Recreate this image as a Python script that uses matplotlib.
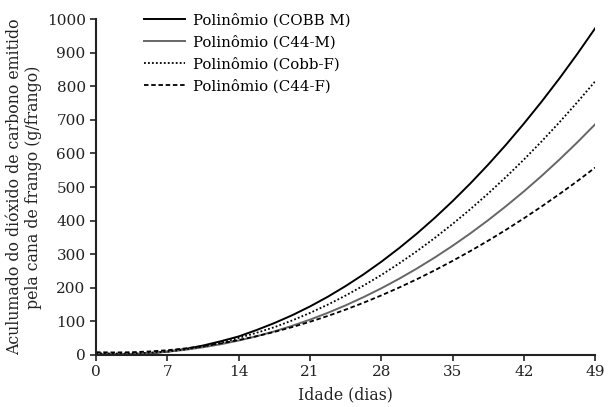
import numpy as np
import matplotlib.pyplot as plt

# Valores (curvas de tendência polinomial), a cada 1,75 dia
dias = [0, 1.75, 3.5, 5.25, 7, 8.75, 10.5, 12.25, 14, 15.75, 17.5, 19.25, 21, 22.75, 24.5,
        26.25, 28, 29.75, 31.5, 33.25, 35, 36.75, 38.5, 40.25, 42, 43.75, 45.5, 47.25, 49]
cobb_m = [3, 1.2, 1.7, 4.6, 9.9, 17.6, 27.9, 40.7, 55, 74.0, 94.8, 118.1, 144.3, 173.2, 205.1,
          239.7, 277.4, 318.0, 361.5, 408.2, 458, 510.9, 567, 626.3, 689, 754.8, 824, 896.8, 973]
c44_m = [3, 2.2, 3.0, 5.5, 9.5, 15.2, 22.7, 31.8, 42.8, 55.5, 70.1, 86.6, 105, 125.3, 147.6,
         172.0, 198.3, 226.8, 257.4, 290.1, 325, 362.1, 401.5, 443.2, 487.1, 533.4, 582.2, 633.3, 687]
cobb_f = [5, 4.0, 4.5, 6.5, 9.7, 16.3, 25.0, 36.0, 50.5, 65.8, 82.5, 102.6, 125, 149.7, 176.8,
          206.3, 238, 272.4, 309.1, 348.4, 390, 434.2, 480.9, 530.1, 581.8, 636.3, 693.3, 752.8, 815]
c44_f = [8, 7.3, 8.0, 10.3, 14.0, 19.3, 26.1, 34.4, 44.3, 55.6, 68.4, 82.8, 98.7, 116.0, 134.9,
         155.3, 177.2, 200.6, 225.5, 252.0, 280, 309.4, 340.3, 372.8, 406.8, 442.3, 479.3, 517.8, 558]

plt.rcParams['font.family'] = 'DejaVu Serif'

fig = plt.figure(figsize=(6.08, 4.07), dpi=100)
ax = fig.add_axes([0.158, 0.128, 0.821, 0.825])

ax.plot(dias, cobb_m, color='black', lw=1.4, label='Polinômio (COBB M)')
ax.plot(dias, c44_m, color='#666666', lw=1.4, label='Polinômio (C44-M)')
ax.plot(dias, cobb_f, color='black', lw=1.3, ls=(0, (1, 1.2)), label='Polinômio (Cobb-F)')
ax.plot(dias, c44_f, color='black', lw=1.3, ls=(0, (2.5, 1.5)), label='Polinômio (C44-F)')

ax.set_xlim(0, 49)
ax.set_ylim(0, 1000)
ax.set_xticks(np.arange(0, 50, 7))
ax.set_yticks(np.arange(0, 1001, 100))
ax.tick_params(direction='out', length=4, width=1.2, labelsize=11, colors='#222222')

for s in ['top', 'right']:
    ax.spines[s].set_visible(False)
for s in ['left', 'bottom']:
    ax.spines[s].set_linewidth(1.5)
    ax.spines[s].set_color('#222222')

ax.set_xlabel('Idade (dias)', fontsize=11.3, color='#222222', labelpad=5)
ax.set_ylabel('Aculumado do dióxido de carbono emitido\npela cana de frango (g/frango)',
              fontsize=11.3, color='#222222', labelpad=3, linespacing=1.15)

ax.legend(loc='upper left', bbox_to_anchor=(0.085, 1.035), frameon=False, fontsize=10.8,
          handlelength=2.7, handletextpad=0.55, labelspacing=0.5, borderaxespad=0)

fig.savefig('out.png', dpi=100)
